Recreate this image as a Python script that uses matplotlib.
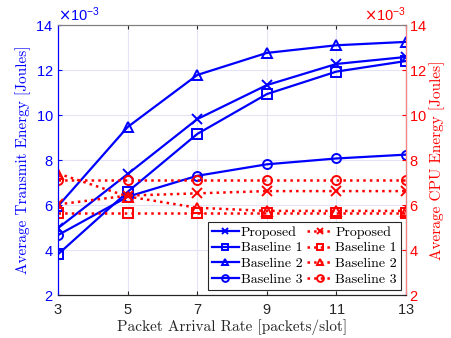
import matplotlib
matplotlib.use("Agg")
import matplotlib.pyplot as plt
from matplotlib.ticker import ScalarFormatter

x = [3, 5, 7, 9, 11, 13]
labels = ["Proposed", "Baseline 1", "Baseline 2", "Baseline 3"]
markers = ["x", "s", "^", "o"]

# Transmit energy (x 1e-3 J)
tx_proposed = [4.98, 7.38, 9.82, 11.33, 12.27, 12.58]
tx_base1 = [3.82, 6.59, 9.16, 10.93, 11.93, 12.40]
tx_base2 = [5.96, 9.47, 11.78, 12.76, 13.10, 13.25]
tx_base3 = [4.67, 6.37, 7.30, 7.81, 8.07, 8.24]

# CPU energy (x 1e-3 J)
cpu_proposed = [6.03, 6.42, 6.52, 6.62, 6.62, 6.62]
cpu_base1 = [5.66, 5.66, 5.66, 5.66, 5.66, 5.66]
cpu_base2 = [7.40, 6.38, 5.88, 5.74, 5.74, 5.74]
cpu_base3 = [7.13, 7.13, 7.13, 7.13, 7.13, 7.13]

tx = [tx_proposed, tx_base1, tx_base2, tx_base3]
cpu = [cpu_proposed, cpu_base1, cpu_base2, cpu_base3]

serif = ["cmr10", "DejaVu Serif"]
plt.rcParams["axes.formatter.use_mathtext"] = True
plt.rcParams["font.family"] = ["Liberation Sans", "DejaVu Sans"]

fig = plt.figure(figsize=(4.51, 3.38), dpi=100)
ax = fig.add_axes([0.129, 0.127, 0.771, 0.799])
ax2 = ax.twinx()

blue = "#0000ff"
red = "#ff0000"
handles = []
for vals, m, lab in zip(tx, markers, labels):
    h, = ax.plot(x, [v * 1e-3 for v in vals], color=blue, lw=1.6, marker=m,
                 markersize=6.5, markerfacecolor="none", markeredgewidth=1.4, label=lab)
    handles.append(h)
for vals, m, lab in zip(cpu, markers, labels):
    h, = ax2.plot(x, [v * 1e-3 for v in vals], color=red, lw=1.8, ls=":", marker=m,
                  markersize=6.5, markerfacecolor="none", markeredgewidth=1.4, label=lab)
    handles.append(h)

for a in (ax, ax2):
    a.set_xlim(3, 13)
    a.set_ylim(2e-3, 14e-3)
    a.set_yticks([v * 1e-3 for v in [2, 4, 6, 8, 10, 12, 14]])
    fmt = ScalarFormatter(useMathText=True, useOffset=False)
    fmt.set_powerlimits((-3, -3))
    a.yaxis.set_major_formatter(fmt)

ax.set_xticks(x)
ax.grid(True, color="#e4e4f6", lw=0.8)
ax.set_axisbelow(True)

ax.tick_params(axis="y", colors=blue, labelsize=10.5, direction="in", length=3)
ax.tick_params(axis="x", colors="#262626", labelsize=10.5, direction="in", length=3, pad=6)
ax.tick_params(axis="x", top=True)
ax2.tick_params(axis="y", colors=red, labelsize=10.5, direction="in", length=3, pad=2)
ax.yaxis.get_offset_text().set_color(blue)
ax.yaxis.get_offset_text().set_fontsize(10.5)
ax2.yaxis.get_offset_text().set_color(red)
ax2.yaxis.get_offset_text().set_fontsize(10.5)

ax.spines["left"].set_color(blue)
ax.spines["bottom"].set_color("#262626")
ax.spines["top"].set_color("#808080")
ax2.spines["left"].set_color(blue)
ax2.spines["right"].set_color("#ff8080")
ax2.spines["top"].set_color("#808080")
ax2.spines["bottom"].set_color("#262626")

ax.set_xlabel("Packet Arrival Rate [packets/slot]", family=serif, fontsize=11, color="#262626", labelpad=1)
ax.set_ylabel("Average Transmit Energy [Joules]", family=serif, fontsize=11, color=blue, labelpad=3)
ax2.set_ylabel("Average CPU Energy [Joules]", family=serif, fontsize=11, color=red, labelpad=2)

leg = ax2.legend(handles=handles, ncol=2, loc="lower right",
                 prop={"family": serif, "size": 10},
                 frameon=True, fancybox=False, edgecolor="#262626", framealpha=1,
                 handlelength=1.9, handletextpad=0.15, columnspacing=0.3,
                 labelspacing=0.22, borderpad=0.3, borderaxespad=0.35,
                 markerscale=0.75)
leg.get_frame().set_linewidth(0.8)

fig.savefig("out.png", dpi=100)
